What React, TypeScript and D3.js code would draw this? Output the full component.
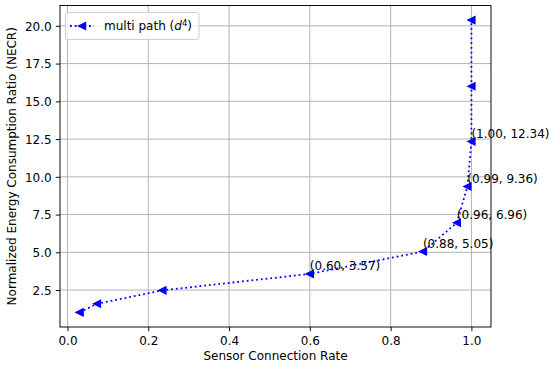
import React, { useEffect, useRef } from 'react';
import * as d3 from 'd3';

// sensor connection rate vs NECR, multi path (d^4)
const connectionRate = [0.03, 0.073, 0.235, 0.6, 0.88, 0.964, 0.99, 1.0, 1.0, 1.0];
const necr = [1.02, 1.59, 2.48, 3.57, 5.05, 6.96, 9.36, 12.34, 16.0, 20.38];
const annotated = [3, 4, 5, 6, 7];
const xTicks = [0.0, 0.2, 0.4, 0.6, 0.8, 1.0];
const yTicks = [2.5, 5.0, 7.5, 10.0, 12.5, 15.0, 17.5, 20.0];
const seriesLabel = 'multi path';

const W = 550;
const H = 367;
const FONT = '"DejaVu Sans", sans-serif';
const BLUE = '#0000ff';

const App = () => {
  const svgRef = useRef<SVGSVGElement>(null);

  useEffect(() => {
    const svg = d3.select(svgRef.current);
    svg.selectAll('*').remove();

    const margin = { top: 5.5, right: W - 491, bottom: H - 327, left: 60 };
    const width = W - margin.left - margin.right;
    const height = H - margin.top - margin.bottom;

    // matplotlib-like 5% auto margins
    const xPad = (d3.max(connectionRate)! - d3.min(connectionRate)!) * 0.05;
    const yPad = (d3.max(necr)! - d3.min(necr)!) * 0.05;
    const x = d3.scaleLinear()
      .domain([d3.min(connectionRate)! - xPad, d3.max(connectionRate)! + xPad])
      .range([0, width]);
    const y = d3.scaleLinear()
      .domain([d3.min(necr)! - yPad, d3.max(necr)! + yPad])
      .range([height, 0]);

    const g = svg.append('g').attr('transform', `translate(${margin.left},${margin.top})`);

    // grid
    g.append('g')
      .selectAll('line')
      .data(xTicks)
      .enter()
      .append('line')
      .attr('x1', (d) => x(d)).attr('x2', (d) => x(d))
      .attr('y1', 0).attr('y2', height)
      .attr('stroke', '#b0b0b0').attr('stroke-width', 0.95);
    g.append('g')
      .selectAll('line')
      .data(yTicks)
      .enter()
      .append('line')
      .attr('x1', 0).attr('x2', width)
      .attr('y1', (d) => y(d)).attr('y2', (d) => y(d))
      .attr('stroke', '#b0b0b0').attr('stroke-width', 0.95);

    // axes
    const xAxis = g.append('g')
      .attr('transform', `translate(0,${height})`)
      .call(d3.axisBottom(x).tickValues(xTicks).tickFormat(d3.format('.1f')).tickSizeOuter(0).tickSize(4.2).tickPadding(4.2));
    const yAxis = g.append('g')
      .call(d3.axisLeft(y).tickValues(yTicks).tickFormat(d3.format('.1f')).tickSizeOuter(0).tickSize(4.2).tickPadding(4.2));
    [xAxis, yAxis].forEach((a) => {
      a.select('.domain').remove();
      a.selectAll('line').attr('stroke', '#000').attr('stroke-width', 0.95);
      a.selectAll('text').attr('fill', '#000').style('font-family', FONT).style('font-size', '12px');
    });
    xAxis.selectAll('text').attr('dy', '0.76em');
    yAxis.selectAll('text').attr('dy', '0.36em');

    // line + markers
    const pts = connectionRate.map((c, i) => [c, necr[i]] as [number, number]);
    const line = d3.line<[number, number]>().x((d) => x(d[0])).y((d) => y(d[1]));
    g.append('path')
      .attr('d', line(pts))
      .attr('fill', 'none')
      .attr('stroke', BLUE)
      .attr('stroke-width', 1.8)
      .attr('stroke-dasharray', '1.8 2.95');

    const tri = (cx: number, cy: number, s: number) =>
      `M${cx - s},${cy} L${cx + s},${cy - s} L${cx + s},${cy + s} Z`;
    g.append('g')
      .selectAll('path')
      .data(pts)
      .enter()
      .append('path')
      .attr('d', (d) => tri(x(d[0]), y(d[1]), 3.6))
      .attr('fill', BLUE)
      .attr('stroke', BLUE)
      .attr('stroke-width', 1.2)
      .attr('stroke-linejoin', 'miter');

    // spines
    g.append('rect')
      .attr('width', width).attr('height', height)
      .attr('fill', 'none').attr('stroke', '#000').attr('stroke-width', 0.95);

    // annotations
    g.append('g')
      .selectAll('text')
      .data(annotated)
      .enter()
      .append('text')
      .attr('x', (i) => x(connectionRate[i]))
      .attr('y', (i) => y(necr[i]) - 3.5)
      .style('font-family', FONT)
      .style('font-size', '12px')
      .attr('fill', '#000')
      .text((i) => `(${connectionRate[i].toFixed(2)}, ${necr[i].toFixed(2)})`);

    // legend
    const legend = svg.append('g').attr('transform', 'translate(65.5,12.5)');
    legend.append('rect')
      .attr('width', 133.5).attr('height', 27)
      .attr('rx', 2.5)
      .attr('fill', 'rgba(255,255,255,0.8)')
      .attr('stroke', '#cccccc').attr('stroke-width', 0.95);
    legend.append('line')
      .attr('x1', 4.5).attr('x2', 28.5).attr('y1', 13.5).attr('y2', 13.5)
      .attr('stroke', BLUE).attr('stroke-width', 1.8).attr('stroke-dasharray', '1.8 2.95');
    legend.append('path').attr('d', tri(16.5, 13.5, 3.6))
      .attr('fill', BLUE).attr('stroke', BLUE).attr('stroke-width', 1.2);
    const lt = legend.append('text')
      .attr('x', 38.5).attr('y', 17.8)
      .style('font-family', FONT).style('font-size', '12px').attr('fill', '#000');
    lt.append('tspan').text(`${seriesLabel} (`);
    lt.append('tspan').style('font-style', 'italic').text('d');
    lt.append('tspan').attr('dy', -4.5).style('font-size', '8.5px').text('4');
    lt.append('tspan').attr('dy', 4.5).text(')');

    // axis labels
    svg.append('text')
      .attr('x', margin.left + width / 2)
      .attr('y', 360)
      .attr('text-anchor', 'middle')
      .style('font-family', FONT).style('font-size', '12px')
      .text('Sensor Connection Rate');
    svg.append('text')
      .attr('transform', `translate(15.5,${margin.top + height / 2}) rotate(-90)`)
      .attr('text-anchor', 'middle')
      .style('font-family', FONT).style('font-size', '12px')
      .text('Normalized Energy Consumption Ratio (NECR)');
  }, []);

  return (
    <div style={{ position: 'fixed', left: 0, top: 0, width: W, height: H, background: '#fff' }}>
      <svg ref={svgRef} width={W} height={H} style={{ display: 'block' }} />
    </div>
  );
};

export default App;
